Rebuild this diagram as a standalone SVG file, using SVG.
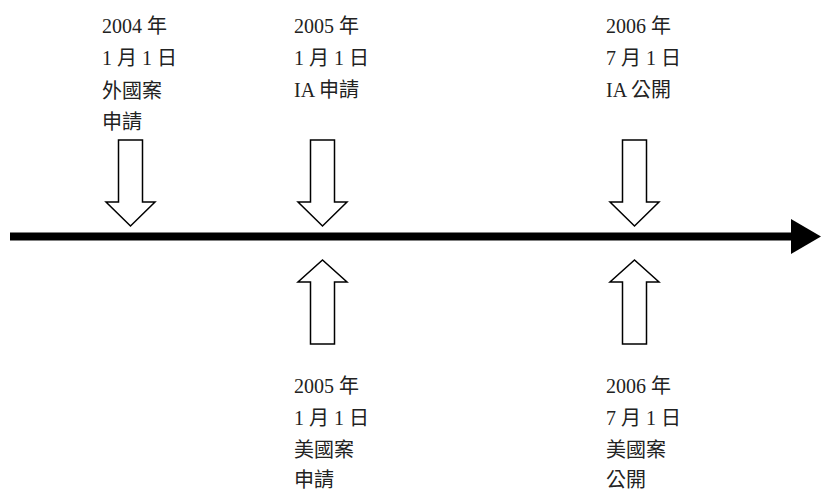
<svg xmlns="http://www.w3.org/2000/svg" width="821" height="491" viewBox="0 0 821 491">
<style>
.blk{fill:#fff;stroke:#000;stroke-width:1.5;stroke-linejoin:miter}
.t{font-family:"Liberation Serif","Noto Sans CJK TC",serif;font-size:20px;fill:#222}
</style>
<rect width="821" height="491" fill="#fff"/>
<g id="connectors">
<line x1="10" y1="236.5" x2="793" y2="236.5" stroke="#000" stroke-width="8"/>
<polygon points="791,219 821,236.5 791,254" fill="#000"/>
</g>
<g id="n-2004">
<polygon class="blk" points="118.5,140 142.5,140 142.5,202 155,202 130.5,226 106,202 118.5,202"/>
<text class="t" x="102" y="33">2004 年</text>
<text class="t" x="102" y="65">1 月 1 日</text>
<text class="t" x="102" y="98">外國案</text>
<text class="t" x="102" y="129">申請</text>
</g>
<g id="n-2005-ia">
<polygon class="blk" points="310.5,140 334.5,140 334.5,202 347,202 322.5,226 298,202 310.5,202"/>
<text class="t" x="294" y="33">2005 年</text>
<text class="t" x="294" y="65">1 月 1 日</text>
<text class="t" x="294" y="97">IA 申請</text>
</g>
<g id="n-2006-ia">
<polygon class="blk" points="622.5,140 646.5,140 646.5,202 659,202 634.5,226 610,202 622.5,202"/>
<text class="t" x="606" y="33">2006 年</text>
<text class="t" x="606" y="65">7 月 1 日</text>
<text class="t" x="606" y="97">IA 公開</text>
</g>
<g id="n-2005-us">
<polygon class="blk" points="310.5,344 334.5,344 334.5,282 347,282 322.5,260 298,282 310.5,282"/>
<text class="t" x="294" y="393">2005 年</text>
<text class="t" x="294" y="425">1 月 1 日</text>
<text class="t" x="294" y="457">美國案</text>
<text class="t" x="294" y="487">申請</text>
</g>
<g id="n-2006-us">
<polygon class="blk" points="622.5,344 646.5,344 646.5,282 659,282 634.5,260 610,282 622.5,282"/>
<text class="t" x="606" y="393">2006 年</text>
<text class="t" x="606" y="425">7 月 1 日</text>
<text class="t" x="606" y="457">美國案</text>
<text class="t" x="606" y="487">公開</text>
</g>
</svg>
